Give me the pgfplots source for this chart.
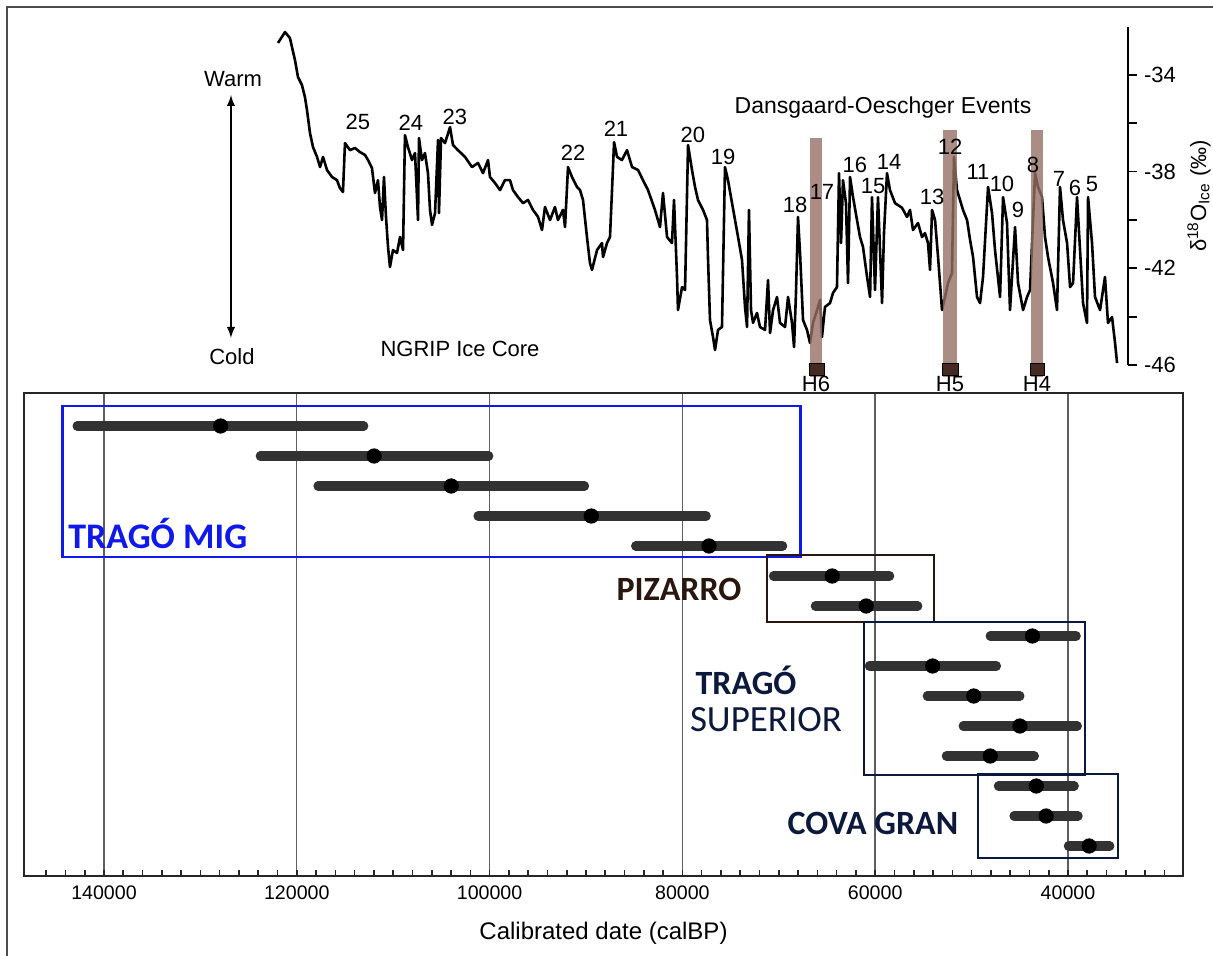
\documentclass[border=0pt]{standalone}
\usepackage{fontspec}
\setmainfont{Liberation Sans}
\newfontfamily\carlito{Carlito}
\usepackage{pgfplots}
\pgfplotsset{compat=1.18}
\newcommand\fs[1]{\fontsize{#1}{#1}\selectfont}

\definecolor{bargray}{RGB}{50,50,50}
\definecolor{gridgray}{RGB}{95,95,95}
\definecolor{heinrich}{RGB}{150,112,102}
\definecolor{hbox}{RGB}{70,42,32}
\definecolor{migblue}{RGB}{15,25,235}
\definecolor{pizbrown}{RGB}{40,22,15}
\definecolor{navy}{RGB}{12,25,60}

\begin{document}
\begin{tikzpicture}
\useasboundingbox (0,0) rectangle (606.5pt,-478pt);
\draw[black!70, line width=0.6pt] (3.5pt,-478pt) -- (3.5pt,-3.5pt) -- (606.5pt,-3.5pt);

% ---- NGRIP ice core (top) ----
\begin{axis}[
at={(12pt,-182.5pt)}, anchor=south west,
scale only axis, width=552pt, height=169pt,
x dir=reverse, xmin=34150, xmax=148300,
ymin=-46, ymax=-32.03,
axis x line=none, axis y line*=right,
axis line style={line width=0.9pt},
ytick={-46,-42,-38,-34}, minor ytick={-44,-40,-36},
tick align=outside, major tick length=4.5pt, minor tick length=4.5pt,
tick style={line width=0.9pt, black},
yticklabel style={font=\fs{11}},
/pgf/number format/assume math mode=true,
clip=false,
]
\addplot[black, line width=1.3pt, line join=round] table {
122040 -32.69
121310 -32.24
120800 -32.49
120590 -32.86
120280 -33.40
119970 -34.10
119560 -34.43
119250 -34.93
119040 -35.46
118730 -36.41
118420 -36.99
118000 -37.40
117690 -37.82
117380 -37.40
116970 -37.94
116450 -38.23
115940 -38.36
115630 -38.69
115320 -38.85
115110 -36.83
114590 -37.12
114080 -37.03
113560 -37.20
113040 -37.32
112730 -37.53
112320 -37.86
112010 -38.89
111700 -38.36
111490 -39.47
111280 -40.01
111080 -38.23
110870 -39.88
110660 -41.12
110460 -41.95
110150 -41.25
109730 -41.37
109420 -40.71
109110 -41.25
108910 -36.50
108600 -36.99
108180 -37.53
107870 -37.24
107560 -40.01
107460 -36.62
107150 -37.53
106840 -37.24
106530 -38.07
106320 -39.59
106110 -40.21
105800 -39.72
105490 -36.70
105390 -39.72
105180 -36.62
104770 -36.83
104250 -36.17
103940 -36.91
103430 -37.12
102700 -37.40
101980 -37.82
101360 -37.65
100840 -38.07
100320 -37.53
100120 -38.23
99600 -38.48
99080 -38.77
98570 -38.36
98050 -38.36
97740 -38.77
97220 -39.06
96700 -39.31
96190 -39.18
95670 -39.59
95150 -39.88
94740 -40.42
94430 -39.47
93910 -40.01
93400 -39.47
93090 -40.01
92570 -39.59
92360 -40.30
92050 -37.82
91640 -38.23
91120 -38.64
90810 -38.77
90500 -39.18
90090 -40.71
89780 -41.79
89570 -42.07
89050 -41.25
88540 -40.96
88430 -41.54
88020 -40.96
87710 -40.71
87500 -38.77
87290 -36.79
86980 -37.40
86470 -37.53
85950 -37.12
85430 -37.82
84810 -37.94
84300 -38.36
83780 -38.77
83060 -39.59
82540 -40.30
82230 -38.89
81810 -40.71
81300 -40.96
81090 -39.18
80780 -42.36
80680 -43.73
80260 -42.78
79950 -42.90
79640 -36.91
79230 -37.94
78920 -38.64
78610 -39.18
78090 -39.59
77680 -40.01
77580 -41.54
77370 -44.14
77060 -44.84
76850 -45.38
76540 -44.55
76130 -44.43
75820 -37.82
75510 -38.36
75090 -39.31
74780 -40.01
74470 -40.71
74060 -41.66
73750 -43.60
73540 -44.43
73340 -39.59
73130 -43.73
72920 -44.26
72510 -43.85
72200 -44.43
71680 -44.55
71370 -42.49
71160 -44.68
70850 -43.73
70440 -43.19
70130 -44.26
69610 -44.43
69300 -43.19
68890 -44.26
68680 -45.26
68480 -43.02
68270 -39.88
68060 -41.37
67750 -44.14
67340 -44.55
67030 -45.09
66720 -44.26
66300 -43.73
65990 -43.31
65790 -44.84
65480 -43.60
64960 -43.44
64650 -43.02
64240 -42.78
64030 -38.07
63820 -40.96
63620 -38.36
63310 -39.31
63100 -42.61
62890 -38.23
62580 -39.06
62170 -40.01
61860 -40.71
61550 -41.12
61130 -42.36
60820 -43.19
60620 -39.06
60310 -42.90
60000 -39.06
59580 -43.44
59380 -40.55
59070 -38.07
58760 -38.77
58240 -39.31
57520 -39.50
57000 -39.88
56690 -39.59
56380 -40.42
55860 -40.13
55450 -40.71
55140 -40.55
54830 -40.96
54620 -42.07
54410 -39.59
54100 -40.01
53790 -41.54
53380 -43.73
53070 -43.19
52760 -42.61
52350 -42.20
52140 -37.40
51830 -38.77
51520 -39.18
51210 -39.59
50790 -40.01
50480 -40.83
50170 -41.54
49760 -43.19
49450 -43.44
49140 -42.36
48620 -38.64
48210 -39.72
47900 -41.25
47380 -43.19
47070 -39.06
46660 -40.13
46350 -43.73
45830 -40.30
45520 -42.61
45000 -43.73
44590 -43.19
44280 -42.90
43760 -38.07
43450 -38.64
43040 -39.06
42730 -40.71
42420 -41.54
41900 -42.61
41490 -43.73
41180 -38.64
40870 -40.01
40450 -40.96
40140 -42.78
39830 -42.61
39420 -39.06
39110 -41.25
38800 -43.44
38390 -44.26
38280 -39.06
37870 -40.96
37560 -43.19
37040 -43.73
36530 -42.36
36220 -44.26
35800 -44.02
35490 -45.09
35280 -45.92
};
% Heinrich events
\addplot[fill=heinrich, fill opacity=0.8, draw=none] coordinates {(67030,-46.5) (65790,-46.5) (65790,-36.62) (67030,-36.62)};
\addplot[fill=heinrich, fill opacity=0.8, draw=none] coordinates {(53270,-46.5) (51830,-46.5) (51830,-36.29) (53270,-36.29)};
\addplot[fill=heinrich, fill opacity=0.8, draw=none] coordinates {(44180,-46.5) (42940,-46.5) (42940,-36.29) (44180,-36.29)};
\addplot[fill=hbox, draw=black, line width=0.4pt] coordinates {(67130,-45.92) (65580,-45.92) (65580,-46.41) (67130,-46.41)} -- cycle;
\addplot[fill=hbox, draw=black, line width=0.4pt] coordinates {(53370,-45.92) (51720,-45.92) (51720,-46.41) (53370,-46.41)} -- cycle;
\addplot[fill=hbox, draw=black, line width=0.4pt] coordinates {(44280,-45.92) (42830,-45.92) (42830,-46.41) (44280,-46.41)} -- cycle;

\begin{scope}[font=\fs{11}]
\node at (axis cs:66410,-46.8) {H6};
\node at (axis cs:52550,-46.8) {H5};
\node at (axis cs:43560,-46.8) {H4};
\node at (axis cs:113770,-35.96) {25};
\node at (axis cs:108290,-36.00) {24};
\node at (axis cs:103740,-35.75) {23};
\node at (axis cs:91530,-37.24) {22};
\node at (axis cs:87090,-36.25) {21};
\node at (axis cs:79130,-36.50) {20};
\node at (axis cs:76020,-37.40) {19};
\node at (axis cs:68580,-39.39) {18};
\node at (axis cs:65790,-38.85) {17};
\node at (axis cs:62380,-37.74) {16};
\node at (axis cs:60510,-38.60) {15};
\node at (axis cs:58860,-37.61) {14};
\node at (axis cs:54410,-39.06) {13};
\node at (axis cs:52550,-36.99) {12};
\node at (axis cs:49660,-38.02) {11};
\node at (axis cs:47180,-38.52) {10};
\node at (axis cs:45520,-39.59) {9};
\node at (axis cs:43970,-37.74) {8};
\node at (axis cs:41280,-38.31) {7};
\node at (axis cs:39630,-38.69) {6};
\node at (axis cs:37870,-38.52) {5};
\node at (axis cs:126690,-34.18) {Warm};
\node at (axis cs:126800,-45.67) {Cold};
\node at (axis cs:103220,-45.34) {NGRIP Ice Core};
\end{scope}
\node[font=\fs{11.5}] at (axis cs:59480,-35.34) {Dansgaard-Oeschger Events};
\draw[<->, >=latex, line width=0.9pt] (axis cs:126900,-34.84) -- (axis cs:126900,-44.88);
\node[font=\fs{11}, rotate=90, anchor=center] at ([xshift=35.5pt]axis description cs:1,0.5)
  {δ\textsuperscript{18}O\textsubscript{Ice} (‰)};
\end{axis}

% ---- dated layers (bottom) ----
\begin{axis}[
at={(12pt,-438pt)}, anchor=south west,
scale only axis, width=579.5pt, height=241.5pt,
x dir=reverse, xmin=28070, xmax=148300,
ymin=0, ymax=16.1,
xtick={40000,60000,80000,100000,120000,140000},
minor xtick={30000,32000,...,146000},
ytick=\empty,
xtick pos=bottom,
tick align=inside, major tick length=3pt, minor tick length=3pt,
tick style={line width=0.8pt, black!85},
xmajorgrids, grid style={gridgray, line width=0.7pt},
axis line style={line width=1pt, black!85},
scaled x ticks=false,
xticklabel style={font=\fs{9.8}, yshift=-1.5pt},
/pgf/number format/.cd, fixed, precision=0, 1000 sep={}, assume math mode=true,
/pgfplots/.cd,
xlabel={Calibrated date (calBP)},
xlabel style={font=\fs{12}, at={(axis description cs:0.5,0)}, anchor=center, yshift=-28.5pt},
clip=false,
]
% group frames
\addplot[migblue, line width=1.1pt] coordinates {(144300,15.68) (67750,15.68) (67750,10.63) (144300,10.63)} -- cycle;
\addplot[pizbrown, line width=1.1pt] coordinates {(71230,10.7) (53900,10.7) (53900,8.47) (71230,8.47)} -- cycle;
\addplot[navy, line width=1.1pt] coordinates {(61170,8.47) (38240,8.47) (38240,3.37) (61170,3.37)} -- cycle;
\addplot[navy, line width=1.1pt] coordinates {(49340,3.4) (34820,3.4) (34820,0.6) (49340,0.6)} -- cycle;

% date ranges
\pgfplotsset{range/.style={bargray, line width=4.6pt, line cap=round}}
\addplot[range] coordinates {(142790,15) (113050,15)};
\addplot[range] coordinates {(123790,14) (100080,14)};
\addplot[range] coordinates {(117800,13) (90150,13)};
\addplot[range] coordinates {(101200,12) (77530,12)};
\addplot[range] coordinates {(84850,11) (69600,11)};
\addplot[range] coordinates {(70550,10) (58500,10)};
\addplot[range] coordinates {(66210,9) (55580,9)};
\addplot[range] coordinates {(48070,8) (39150,8)};
\addplot[range] coordinates {(60610,7) (47420,7)};
\addplot[range] coordinates {(54600,6) (44990,6)};
\addplot[range] coordinates {(50870,5) (39030,5)};
\addplot[range] coordinates {(52620,4) (43490,4)};
\addplot[range] coordinates {(47220,3) (39350,3)};
\addplot[range] coordinates {(45600,2) (38950,2)};
\addplot[range] coordinates {(39960,1) (35660,1)};
\addplot[only marks, mark=*, mark size=3.6pt, black] table {
127900 15
111980 14
103980 13
89450 12
77240 11
64460 10
60930 9
43690 8
54040 7
49780 6
44990 5
48070 4
43290 3
42270 2
37810 1
};

\begin{scope}[inner sep=0pt]
\node[anchor=base west, text=migblue, font=\carlito\bfseries\fs{18}] at (axis cs:143740,10.93) {TRAGÓ MIG};
\node[anchor=base, text=pizbrown, font=\carlito\bfseries\fs{17}] at (axis cs:80360,9.17) {PIZARRO};
\node[anchor=base, text=navy, font=\carlito\bfseries\fs{17}] at (axis cs:73400,6.05) {TRAGÓ};
\node[anchor=base, text=navy, font=\carlito\fs{18.5}] at (axis cs:71330,4.83) {SUPERIOR};
\node[anchor=base, text=navy, font=\carlito\bfseries\fs{17}] at (axis cs:60230,1.37) {COVA GRAN};
\end{scope}
\end{axis}
\end{tikzpicture}
\end{document}
